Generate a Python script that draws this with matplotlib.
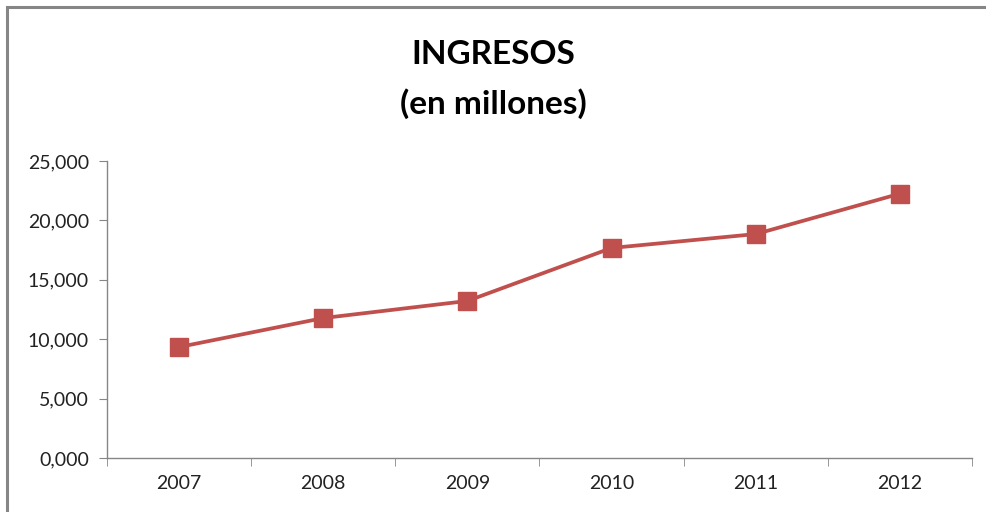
import matplotlib
matplotlib.use("Agg")
import matplotlib.pyplot as plt
from matplotlib.patches import Rectangle
from matplotlib.ticker import FuncFormatter, FixedLocator

years = ["2007", "2008", "2009", "2010", "2011", "2012"]
ingresos = [9340, 11780, 13220, 17680, 18850, 22250]

plt.rcParams['font.family'] = ['Lato', 'DejaVu Sans']


def miles(v, pos):
    # Excel style: thousands,three decimals -> "25,000", "0,000"
    v = int(round(v))
    return "%d,%03d" % (v // 1000, v % 1000)


fig = plt.figure(figsize=(9.87, 5.12), dpi=100)
ax = fig.add_axes([107/987, 1 - 458/512, (972 - 107)/987, (458 - 161)/512])

x = list(range(len(years)))
ax.plot(x, ingresos, color="#C0504D", linewidth=2.7, marker="s", markersize=12.5,
        markeredgecolor="#C0504D", markerfacecolor="#C0504D")

ax.set_xlim(-0.5, len(years) - 0.5)
ax.set_ylim(0, 25000)
ax.set_yticks(range(0, 25001, 5000))
ax.yaxis.set_major_formatter(FuncFormatter(miles))
ax.set_xticks(x)
ax.set_xticklabels(years)
ax.xaxis.set_minor_locator(FixedLocator([i - 0.5 for i in range(len(years) + 1)]))

ax.tick_params(axis="x", which="major", length=0, pad=12, labelsize=14, colors="#222222")
ax.tick_params(axis="x", which="minor", length=6, color="#868686", direction="out")
ax.tick_params(axis="y", length=6, color="#868686", pad=7, labelsize=14, labelcolor="#222222")

for s in ["top", "right"]:
    ax.spines[s].set_visible(False)
for s in ["left", "bottom"]:
    ax.spines[s].set_color("#868686")
    ax.spines[s].set_linewidth(1)

fig.text(0.5, 1 - 55/512, "INGRESOS", ha="center", va="center", fontsize=24, fontweight="bold")
fig.text(0.5, 1 - 104/512, "(en millones)", ha="center", va="center", fontsize=24, fontweight="bold")

fig.patches.append(Rectangle((7/987, -0.1), 1.2, 1 - 7/512 + 0.1, transform=fig.transFigure,
                             fill=False, edgecolor="#868686", linewidth=2.2))

fig.savefig("out.png", dpi=100)
